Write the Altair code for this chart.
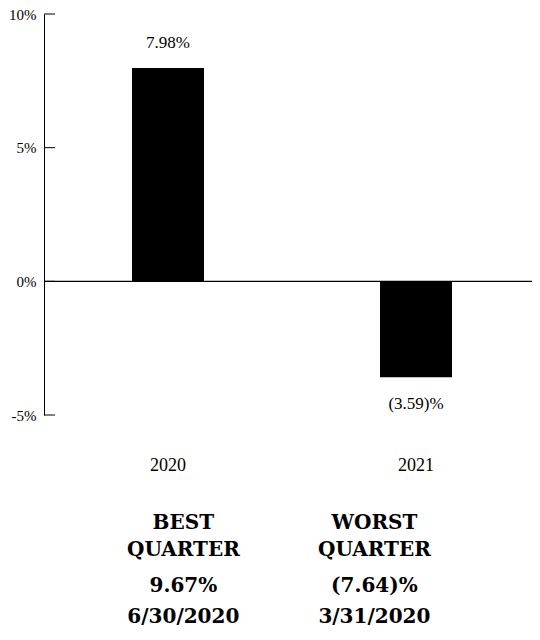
import altair as alt
import pandas as pd

# ---- data ----
years = ["2020", "2021"]
returns = [7.98, -3.59]
return_labels = ["7.98%", "(3.59)%"]
y_ticks = [-5, 0, 5, 10]

quarter_cols = ["BEST", "WORST"]
quarter_heads = ["BEST\nQUARTER", "WORST\nQUARTER"]
quarter_values = ["9.67%", "(7.64)%"]
quarter_dates = ["6/30/2020", "3/31/2020"]

SERIF = "Liberation Serif"
BOLD_SERIF = "DejaVu Serif"

bars_df = pd.DataFrame({"year": years, "ret": returns, "label": return_labels})
ticks_df = pd.DataFrame({"tick": y_ticks})
zero_df = pd.DataFrame({"zero": [0]})
q_df = pd.DataFrame({"col": quarter_cols, "head": quarter_heads,
                     "value": quarter_values, "date": quarter_dates})

y_scale = alt.Scale(domain=[-5, 10], nice=False, zero=False)

x_enc = alt.X("year:N", sort=years,
              scale=alt.Scale(paddingInner=0, paddingOuter=0),
              axis=alt.Axis(title=None, labelAngle=0, domain=False, ticks=False,
                            labelPadding=41, labelFont=SERIF, labelFontSize=18,
                            labelColor="black"))
y_enc = alt.Y("ret:Q", scale=y_scale,
              axis=alt.Axis(title=None, values=y_ticks, labelExpr="datum.value + '%'",
                            ticks=False, tickSize=0, grid=False, domainColor="black",
                            domainWidth=1, labelFont=SERIF, labelFontSize=15,
                            labelColor="black", labelPadding=8))

bars = alt.Chart(bars_df).mark_bar(color="black", size=72).encode(x=x_enc, y=y_enc)

pos_labels = alt.Chart(bars_df).transform_filter("datum.ret >= 0").mark_text(
    font=SERIF, fontSize=17, color="black", baseline="middle", dy=-25
).encode(x=alt.X("year:N", sort=years, title=None),
         y=alt.Y("ret:Q", title=None), text="label:N")

neg_labels = alt.Chart(bars_df).transform_filter("datum.ret < 0").mark_text(
    font=SERIF, fontSize=17, color="black", baseline="middle", dy=27
).encode(x=alt.X("year:N", sort=years, title=None),
         y=alt.Y("ret:Q", title=None), text="label:N")

zero_line = alt.Chart(zero_df).mark_rule(color="black", strokeWidth=1.2).encode(
    y=alt.Y("zero:Q", title=None))

tick_marks = alt.Chart(ticks_df).mark_rule(color="black", strokeWidth=1).encode(
    y=alt.Y("tick:Q", title=None), x=alt.value(0), x2=alt.value(11))

top = alt.layer(zero_line, bars, tick_marks, pos_labels, neg_labels).properties(
    width=496, height=401)

# ---- best / worst quarter table ----
x_q = alt.X("col:N", scale=alt.Scale(type="point", domain=quarter_cols,
                                     padding=0.798, align=0.457), axis=None)
y_q_scale = alt.Scale(type="point", domain=["head", "value", "date"], padding=0)

heads = alt.Chart(q_df).transform_calculate(row="'head'").mark_text(
    font=BOLD_SERIF, fontWeight="bold", fontSize=20, color="black",
    baseline="middle", lineBreak="\n", lineHeight=27, dy=-32
).encode(x=x_q, y=alt.Y("row:N", scale=y_q_scale, axis=None), text="head:N")

vals = alt.Chart(q_df).transform_fold(["value", "date"], as_=["row", "txt"]).mark_text(
    font=BOLD_SERIF, fontWeight="bold", fontSize=20, color="black", baseline="middle"
).encode(x=x_q, y=alt.Y("row:N", scale=y_q_scale, axis=None), text="txt:N")

bottom = alt.layer(heads, vals).properties(width=496, height=62)

chart = alt.vconcat(top, bottom, spacing=140, bounds="flush").properties(
    padding={"left": 0, "top": -1, "right": -9, "bottom": 0}
).configure_view(stroke=None)

chart.save("out.html", embed_options={"renderer": "svg", "actions": False})
